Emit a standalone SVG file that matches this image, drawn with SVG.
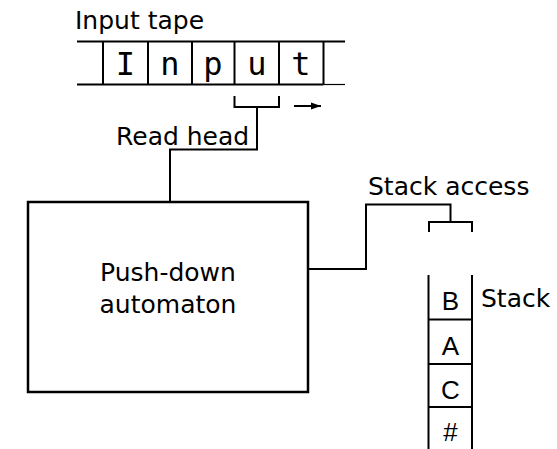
<svg xmlns="http://www.w3.org/2000/svg" width="557" height="449" viewBox="0 0 557 449">
<style>
.ln{fill:none;stroke:#000;stroke-width:2;stroke-linecap:butt}
.lbl{font-family:"DejaVu Sans",sans-serif;font-size:25px;fill:#000}
.mono{font-family:"DejaVu Sans Mono",monospace;font-size:32px;fill:#000;text-anchor:middle}
.stk{font-family:"Liberation Sans",Arial,sans-serif;font-size:26px;fill:#000;text-anchor:middle}
</style>
<defs>
<marker id="ah" markerWidth="10" markerHeight="8" refX="10" refY="4" orient="auto" markerUnits="userSpaceOnUse">
<path d="M0,0.5 L10,4 L0,7.5 Z" fill="#000"/>
</marker>
</defs>
<rect width="557" height="449" fill="#fff"/>
<g id="tape">
<text class="lbl" x="75" y="29">Input tape</text>
<path class="ln" d="M77,41.5 H345 M77,84.5 H323.5 M103,41.5 V84.5 M148,41.5 V84.5 M192,41.5 V84.5 M234.5,41.5 V84.5 M279,41.5 V84.5 M323.5,41.5 V84.5"/>
<path d="M323.5,84.5 H345" stroke="#000" stroke-width="1.2" fill="none"/>
<text class="mono" x="125.5" y="75">I</text>
<text class="mono" x="170" y="75">n</text>
<text class="mono" x="213" y="75">p</text>
<text class="mono" x="257" y="75">u</text>
<text class="mono" x="301" y="75">t</text>
</g>
<g id="readhead">
<path class="ln" d="M234.5,96 V107 H279 V96"/>
<text class="lbl" x="116" y="145">Read head</text>
</g>
<g id="automaton">
<rect x="28" y="202" width="280" height="190" fill="none" stroke="#000" stroke-width="2.5"/>
<text class="lbl" x="168" y="281" text-anchor="middle">Push-down</text>
<text class="lbl" x="168" y="312.5" text-anchor="middle">automaton</text>
</g>
<g id="stackaccess">
<text class="lbl" x="368" y="195">Stack access</text>
<path class="ln" d="M429,232 V222 H472 V232"/>
</g>
<g id="stack">
<path class="ln" d="M428.5,275 V449 M472,275 V449 M428.5,319.5 H472 M428.5,364 H472 M428.5,407 H472"/>
<text class="stk" x="450.5" y="310">B</text>
<text class="stk" x="450.5" y="355">A</text>
<text class="stk" x="450.5" y="398.5">C</text>
<text class="stk" x="450.5" y="441">#</text>
<text class="lbl" x="481" y="306.5">Stack</text>
</g>
<g id="connectors">
<path class="ln" d="M257,107 V149.5 H170 V202"/>
<path class="ln" d="M308,269 H366 V204.5 H450.5 V222"/>
<path d="M294,106 H321" fill="none" stroke="#000" stroke-width="2" marker-end="url(#ah)"/>
</g>
</svg>
